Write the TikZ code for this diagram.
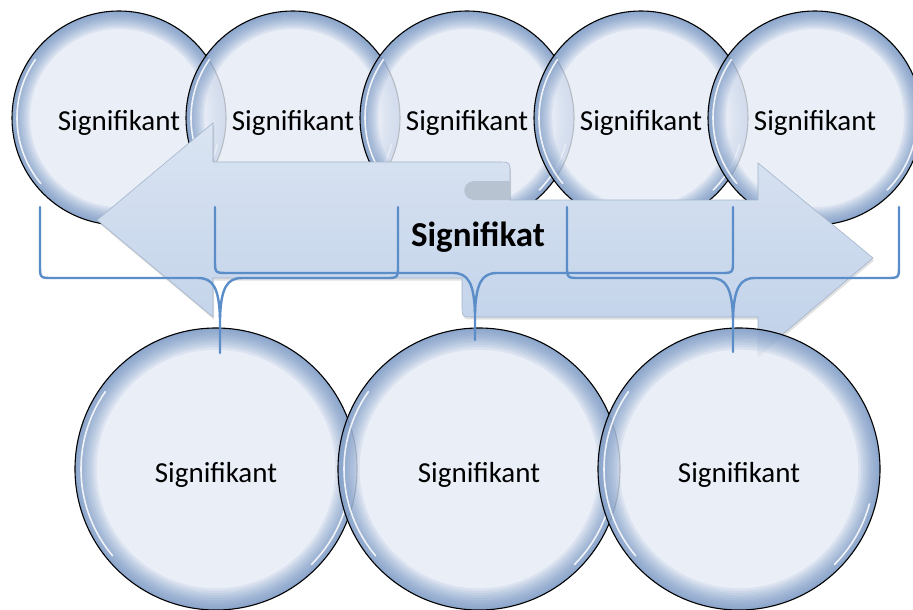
\documentclass[tikz,border=0pt]{standalone}
\usepackage{fontspec}
\setmainfont{Carlito}
\definecolor{bcen}{HTML}{E4EAF5}
\definecolor{rimcol}{HTML}{5A80B6}
\definecolor{arrtop}{HTML}{DAE4F2}
\definecolor{arrbot}{HTML}{C0D1E9}
\definecolor{arrline}{HTML}{A3B4CA}
\definecolor{bracecol}{HTML}{5B8EC8}
\definecolor{curlgray}{HTML}{B8C3D1}
\newcommand{\mybrace}[6]{%
  \draw[braceline] (#1,#3) -- (#1,#4-13) .. controls (#1,#4) .. (#1+13,#4) -- (#5-22,#4) .. controls (#5-7,#4) and (#5-1,#4+10) .. (#5,#4+40) -- (#5,#6);
  \draw[braceline] (#2,#3) -- (#2,#4-13) .. controls (#2,#4) .. (#2-13,#4) -- (#5+22,#4) .. controls (#5+7,#4) and (#5+1,#4+10) .. (#5,#4+40);
}
\newcommand{\rimshade}[3]{% node, radius, depth step
  \foreach \dd in {1,...,9}{%
    \draw[rimcol, line width=#3*\dd pt, opacity=0.1] (#1.center) circle[radius=#2-#3*\dd/2];
  }%
}
\newcommand{\arrowpath}{(97,220) -- (213,123) -- (213,162) -- (498,162) .. controls (510,162) .. (510,174) -- (510,200)
  -- (758,200) -- (758,163) -- (873,258) -- (758,355) -- (758,317) -- (474,317) .. controls (462,317) .. (462,305)
  -- (462,278) -- (213,278) -- (213,317) -- cycle}
\begin{document}
\begin{tikzpicture}[x=1pt,y=-1pt,
  bubble/.style={circle, fill=bcen, fill opacity=0.8, text opacity=1, inner sep=0pt, font=\fontsize{29}{34}\selectfont},
  topbubble/.style={bubble, minimum size=214pt},
  botbubble/.style={bubble, minimum size=282pt},
  outline/.style={draw=black, line width=1.1pt, fill=none},
  shine/.style={white, line width=1.6pt, opacity=0.85, line cap=round},
  arrowbody/.style={top color=arrtop, bottom color=arrbot, draw=arrline, line width=0.6pt},
  arrowshadow/.style={fill=black, opacity=0.12},
  braceline/.style={draw=bracecol, line width=2.4pt, line cap=round},
  bigtext/.style={font=\bfseries\fontsize{35}{40}\selectfont}
]
\useasboundingbox (0,0) rectangle (913,610);
\fill[white] (0,0) rectangle (913,610);

% top row of circles
\foreach \n/\x in {1/119,2/293,3/467,4/641,5/815}{
  \node[topbubble] (t\n) at (\x,118) {\raisebox{-12pt}[0pt][0pt]{Signifikant}};
  \rimshade{t\n}{107}{2}
  \draw[shine] (t\n.center) ++(140:102) arc[start angle=140, end angle=215, radius=102];
  \draw[shine] (t\n.center) ++(15:102) arc[start angle=15, end angle=45, radius=102];
  \draw[outline] (t\n.center) circle[radius=107];
}

% arrows
\fill[arrowshadow, xshift=1pt, yshift=-2.5pt] \arrowpath;
\path[arrowbody] \arrowpath;
\fill[curlgray] (510,181) -- (474,181) .. controls (461,182) and (461,199) .. (474,200) -- (510,200) -- cycle;

% bottom row of circles
\foreach \n/\x in {1/216,2/479,3/739}{
  \node[botbubble] (b\n) at (\x,469) {\raisebox{-13pt}[0pt][0pt]{Signifikant}};
  \rimshade{b\n}{141}{2.4}
  \draw[shine] (b\n.center) ++(140:135) arc[start angle=140, end angle=215, radius=135];
  \draw[shine] (b\n.center) ++(15:135) arc[start angle=15, end angle=45, radius=135];
  \draw[outline] (b\n.center) circle[radius=141];
}

\node[bigtext] (sig) at (478,237) {Signifikat};

% braces
\mybrace{40}{398}{207}{278}{220}{353}
\mybrace{215}{733}{207}{273}{475}{340}
\mybrace{567}{899}{207}{278}{733}{352}
\end{tikzpicture}
\end{document}
